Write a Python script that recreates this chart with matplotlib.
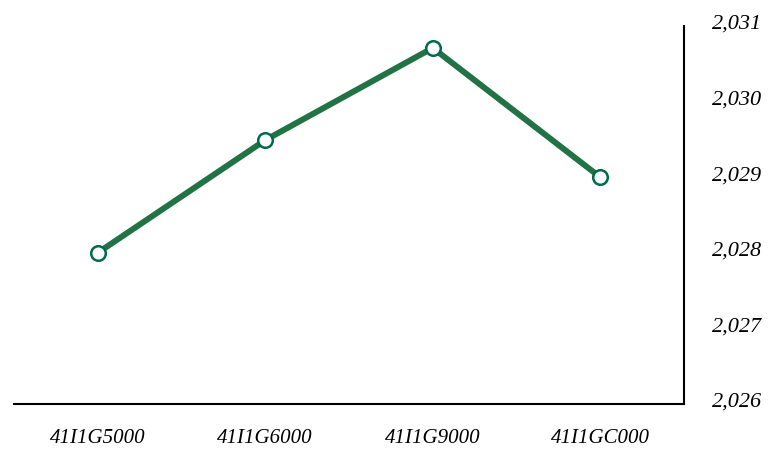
import matplotlib.pyplot as plt
from matplotlib.ticker import FuncFormatter
from matplotlib.transforms import ScaledTranslation

categories = ['41I1G5000', '41I1G6000', '41I1G9000', '41I1GC000']
values = [2028.0, 2029.49, 2030.71, 2029.0]
y_ticks = [2026, 2027, 2028, 2029, 2030, 2031]

plt.rcParams['font.family'] = ['Liberation Serif', 'DejaVu Serif']

fig = plt.figure(figsize=(7.74, 4.54), dpi=100)
ax = fig.add_axes([14 / 774, 50 / 454, 670 / 774, 378 / 454])

x = list(range(len(categories)))
ax.plot(x, values, color='#217346', linewidth=4.3, marker='o', markersize=10.5,
        markerfacecolor='white', markeredgecolor='#006a4e', markeredgewidth=1.8,
        solid_capstyle='butt', zorder=3)

ax.set_xlim(-0.5, len(categories) - 0.5)
ax.set_ylim(y_ticks[0], y_ticks[-1] - 0.04)
ax.set_xticks(x)
ax.set_xticklabels(categories)
ax.set_yticks(y_ticks)
ax.yaxis.set_major_formatter(FuncFormatter(lambda v, p: f'{int(v):,}'))
ax.yaxis.tick_right()

for s in ['top', 'left']:
    ax.spines[s].set_visible(False)
for s in ['right', 'bottom']:
    ax.spines[s].set_linewidth(1.5)
    ax.spines[s].set_color('black')

ax.tick_params(axis='x', length=0, pad=18, labelsize=15)
ax.tick_params(axis='y', length=0, pad=20, labelsize=16)
for lbl in ax.get_xticklabels() + ax.get_yticklabels():
    lbl.set_style('italic')
shift = ScaledTranslation(0, 4 / 100, fig.dpi_scale_trans)
for lbl in ax.get_yticklabels():
    lbl.set_verticalalignment('center_baseline')
    lbl.set_transform(lbl.get_transform() + shift)

fig.savefig('out.png', dpi=100)
